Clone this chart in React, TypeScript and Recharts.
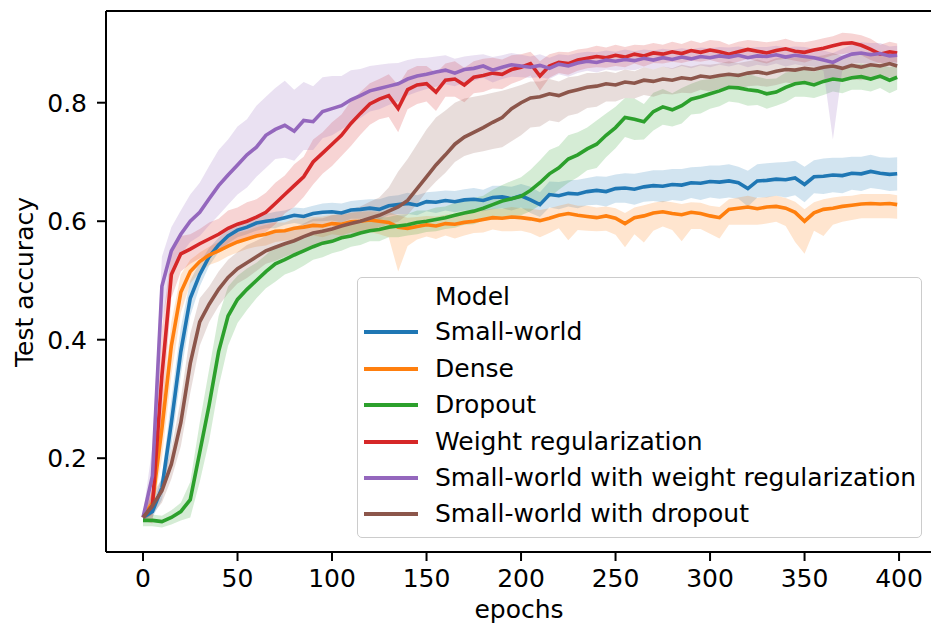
import React from "react";
import { ComposedChart, Line, Area, XAxis, YAxis, ReferenceLine } from "recharts";

const EPOCHS = [
  0, 5, 10, 15, 20, 25, 30, 35, 40, 45,
  50, 55, 60, 65, 70, 75, 80, 85, 90, 95,
  100, 105, 110, 115, 120, 125, 130, 135, 140, 145,
  150, 155, 160, 165, 170, 175, 180, 185, 190, 195,
  200, 205, 210, 215, 220, 225, 230, 235, 240, 245,
  250, 255, 260, 265, 270, 275, 280, 285, 290, 295,
  300, 305, 310, 315, 320, 325, 330, 335, 340, 345,
  350, 355, 360, 365, 370, 375, 380, 385, 390, 395,
  399,
];

const X_TICKS = [0, 50, 100, 150, 200, 250, 300, 350, 400];
const Y_TICKS = [0.2, 0.4, 0.6, 0.8];

// Small-world
const SMALL_WORLD = [
  0.10, 0.11, 0.15, 0.26, 0.38, 0.47, 0.51, 0.54, 0.56, 0.575,
  0.585, 0.59, 0.597, 0.60, 0.602, 0.606, 0.61, 0.608, 0.613, 0.615,
  0.616, 0.614, 0.619, 0.62, 0.622, 0.62, 0.626, 0.628, 0.63, 0.627,
  0.633, 0.632, 0.635, 0.633, 0.636, 0.637, 0.635, 0.64, 0.641, 0.638,
  0.643, 0.636, 0.628, 0.645, 0.643, 0.647, 0.646, 0.65, 0.652, 0.65,
  0.655, 0.656, 0.654, 0.658, 0.66, 0.659, 0.662, 0.661, 0.665, 0.664,
  0.667, 0.666, 0.668, 0.665, 0.655, 0.668, 0.669, 0.671, 0.67, 0.673,
  0.662, 0.675, 0.676, 0.678, 0.677, 0.681, 0.68, 0.684, 0.681, 0.679,
  0.68,
];
const SMALL_WORLD_CI = [
  0.005, 0.01, 0.02, 0.04, 0.04, 0.03, 0.02, 0.015, 0.012, 0.012,
  0.012, 0.012, 0.013, 0.012, 0.014, 0.012, 0.013, 0.014, 0.013, 0.015,
  0.015, 0.016, 0.015, 0.016, 0.015, 0.017, 0.016, 0.016, 0.018, 0.017,
  0.016, 0.018, 0.017, 0.018, 0.018, 0.019, 0.018, 0.02, 0.019, 0.02,
  0.02, 0.022, 0.021, 0.022, 0.023, 0.022, 0.024, 0.023, 0.024, 0.025,
  0.024, 0.025, 0.026, 0.025, 0.026, 0.027, 0.026, 0.027, 0.026, 0.028,
  0.027, 0.028, 0.028, 0.027, 0.03, 0.028, 0.029, 0.028, 0.03, 0.029,
  0.03, 0.028, 0.03, 0.029, 0.03, 0.028, 0.029, 0.028, 0.027, 0.028,
  0.028,
];

// Dense
const DENSE = [
  0.10, 0.125, 0.25, 0.39, 0.48, 0.515, 0.532, 0.543, 0.55, 0.558,
  0.565, 0.57, 0.575, 0.578, 0.583, 0.584, 0.588, 0.59, 0.593, 0.592,
  0.596, 0.595, 0.599, 0.6, 0.602, 0.6, 0.598, 0.59, 0.588, 0.591,
  0.594, 0.592, 0.596, 0.595, 0.598, 0.6, 0.603, 0.606, 0.605, 0.607,
  0.606, 0.604, 0.601, 0.605, 0.61, 0.613, 0.61, 0.608, 0.606, 0.609,
  0.605, 0.596, 0.606, 0.609, 0.614, 0.616, 0.613, 0.611, 0.615, 0.613,
  0.609, 0.606, 0.62, 0.622, 0.624, 0.621, 0.624, 0.625, 0.622, 0.615,
  0.6, 0.614, 0.62, 0.622, 0.625, 0.627, 0.629, 0.63, 0.629, 0.63,
  0.628,
];
const DENSE_UP = [
  0.005, 0.02, 0.04, 0.04, 0.03, 0.02, 0.015, 0.014, 0.015, 0.014,
  0.015, 0.014, 0.015, 0.016, 0.015, 0.014, 0.016, 0.015, 0.014, 0.016,
  0.015, 0.016, 0.015, 0.016, 0.015, 0.016, 0.017, 0.02, 0.018, 0.016,
  0.015, 0.016, 0.015, 0.017, 0.016, 0.015, 0.016, 0.015, 0.016, 0.017,
  0.016, 0.017, 0.018, 0.017, 0.016, 0.017, 0.016, 0.018, 0.017, 0.016,
  0.017, 0.018, 0.017, 0.018, 0.017, 0.018, 0.019, 0.018, 0.017, 0.018,
  0.017, 0.018, 0.017, 0.018, 0.019, 0.018, 0.017, 0.018, 0.017, 0.018,
  0.02, 0.018, 0.017, 0.018, 0.017, 0.016, 0.017, 0.016, 0.017, 0.016,
  0.016,
];
const DENSE_DOWN = [
  0.005, 0.02, 0.05, 0.05, 0.035, 0.02, 0.018, 0.017, 0.018, 0.017,
  0.018, 0.017, 0.018, 0.019, 0.018, 0.017, 0.019, 0.018, 0.017, 0.019,
  0.018, 0.019, 0.018, 0.019, 0.02, 0.022, 0.025, 0.075, 0.03, 0.022,
  0.02, 0.022, 0.02, 0.024, 0.022, 0.02, 0.022, 0.02, 0.022, 0.024,
  0.022, 0.024, 0.028, 0.025, 0.022, 0.045, 0.025, 0.024, 0.023, 0.025,
  0.028, 0.04, 0.028, 0.045, 0.03, 0.025, 0.028, 0.045, 0.028, 0.026,
  0.03, 0.035, 0.026, 0.028, 0.03, 0.027, 0.028, 0.026, 0.03, 0.05,
  0.055, 0.03, 0.045, 0.028, 0.026, 0.025, 0.024, 0.025, 0.024, 0.025,
  0.024,
];

// Dropout
const DROPOUT = [
  0.095, 0.095, 0.093, 0.1, 0.11, 0.13, 0.21, 0.29, 0.38, 0.44,
  0.468, 0.485, 0.5, 0.515, 0.528, 0.535, 0.543, 0.55, 0.557, 0.563,
  0.566, 0.572, 0.575, 0.58, 0.584, 0.586, 0.59, 0.592, 0.594, 0.598,
  0.6, 0.603, 0.606, 0.61, 0.614, 0.617, 0.622, 0.628, 0.634, 0.638,
  0.642, 0.652, 0.665, 0.68, 0.69, 0.705, 0.712, 0.722, 0.73, 0.745,
  0.758, 0.775, 0.772, 0.768, 0.785, 0.793, 0.788, 0.795, 0.806, 0.81,
  0.815, 0.82, 0.826, 0.825, 0.822, 0.82, 0.815, 0.818, 0.826, 0.832,
  0.834, 0.83, 0.836, 0.84, 0.838, 0.842, 0.844, 0.84, 0.845, 0.838,
  0.843,
];
const DROPOUT_CI = [
  0.01, 0.01, 0.01, 0.012, 0.015, 0.03, 0.05, 0.06, 0.06, 0.05,
  0.04, 0.035, 0.03, 0.028, 0.03, 0.025, 0.027, 0.025, 0.022, 0.024,
  0.02, 0.022, 0.018, 0.02, 0.018, 0.02, 0.017, 0.019, 0.018, 0.02,
  0.018, 0.02, 0.019, 0.021, 0.02, 0.022, 0.021, 0.025, 0.027, 0.03,
  0.032, 0.035, 0.038, 0.04, 0.037, 0.04, 0.038, 0.036, 0.04, 0.037,
  0.035, 0.033, 0.035, 0.03, 0.032, 0.03, 0.028, 0.03, 0.026, 0.028,
  0.025, 0.026, 0.024, 0.025, 0.027, 0.024, 0.025, 0.023, 0.025, 0.022,
  0.024, 0.022, 0.023, 0.021, 0.022, 0.02, 0.022, 0.021, 0.02, 0.022,
  0.021,
];

// Weight regularization
const WEIGHT_REG = [
  0.10, 0.12, 0.34, 0.51, 0.545, 0.553, 0.562, 0.57, 0.578, 0.588,
  0.595, 0.6, 0.607, 0.615, 0.63, 0.645, 0.66, 0.675, 0.7, 0.715,
  0.73, 0.745, 0.765, 0.782, 0.798, 0.806, 0.812, 0.79, 0.822, 0.83,
  0.832, 0.818, 0.838, 0.84, 0.83, 0.843, 0.846, 0.85, 0.848, 0.856,
  0.86, 0.866, 0.845, 0.862, 0.868, 0.866, 0.872, 0.875, 0.878, 0.876,
  0.88, 0.877, 0.882, 0.879, 0.884, 0.882, 0.886, 0.883, 0.888, 0.885,
  0.889, 0.886, 0.882, 0.886, 0.89, 0.887, 0.884, 0.888, 0.891, 0.887,
  0.885, 0.889, 0.892, 0.896, 0.9, 0.901, 0.897, 0.89, 0.882, 0.886,
  0.884,
];
const WEIGHT_REG_CI = [
  0.005, 0.03, 0.08, 0.04, 0.03, 0.025, 0.025, 0.028, 0.026, 0.03,
  0.028, 0.032, 0.03, 0.033, 0.035, 0.032, 0.036, 0.034, 0.038, 0.035,
  0.037, 0.035, 0.038, 0.036, 0.035, 0.034, 0.036, 0.04, 0.033, 0.032,
  0.03, 0.032, 0.028, 0.03, 0.029, 0.027, 0.028, 0.026, 0.025, 0.024,
  0.022, 0.02, 0.025, 0.02, 0.018, 0.019, 0.018, 0.017, 0.018, 0.017,
  0.018, 0.017, 0.016, 0.018, 0.017, 0.016, 0.017, 0.016, 0.017, 0.016,
  0.017, 0.018, 0.016, 0.017, 0.016, 0.017, 0.018, 0.016, 0.017, 0.016,
  0.017, 0.016, 0.017, 0.016, 0.018, 0.016, 0.017, 0.018, 0.016, 0.017,
  0.016,
];

// Small-world with weight regularization
const SW_WEIGHT_REG = [
  0.10, 0.17, 0.49, 0.55, 0.578, 0.6, 0.615, 0.638, 0.66, 0.678,
  0.695, 0.712, 0.725, 0.745, 0.755, 0.762, 0.752, 0.77, 0.768, 0.785,
  0.79, 0.795, 0.805, 0.812, 0.82, 0.824, 0.828, 0.832, 0.84, 0.845,
  0.848, 0.852, 0.855, 0.85, 0.856, 0.858, 0.862, 0.855, 0.86, 0.864,
  0.862, 0.86, 0.863, 0.858, 0.865, 0.862, 0.867, 0.87, 0.868, 0.872,
  0.87, 0.873, 0.871, 0.875, 0.872, 0.876, 0.873, 0.877, 0.874, 0.878,
  0.876, 0.879, 0.877, 0.88, 0.876, 0.879, 0.878, 0.881, 0.877, 0.88,
  0.878, 0.876, 0.872, 0.868, 0.876, 0.882, 0.884, 0.881, 0.883, 0.879,
  0.88,
];
const SW_WEIGHT_REG_UP = [
  0.005, 0.05, 0.05, 0.04, 0.04, 0.045, 0.05, 0.055, 0.06, 0.06,
  0.065, 0.06, 0.07, 0.065, 0.07, 0.075, 0.07, 0.065, 0.06, 0.058,
  0.055, 0.05, 0.05, 0.045, 0.042, 0.04, 0.038, 0.035, 0.032, 0.03,
  0.028, 0.026, 0.025, 0.024, 0.022, 0.022, 0.02, 0.022, 0.02, 0.02,
  0.019, 0.018, 0.019, 0.018, 0.017, 0.018, 0.017, 0.016, 0.017, 0.016,
  0.016, 0.017, 0.016, 0.015, 0.016, 0.015, 0.016, 0.015, 0.016, 0.015,
  0.016, 0.015, 0.016, 0.015, 0.016, 0.015, 0.016, 0.015, 0.016, 0.015,
  0.016, 0.015, 0.016, 0.016, 0.015, 0.016, 0.018, 0.02, 0.018, 0.016,
  0.016,
];
const SW_WEIGHT_REG_DOWN = [
  0.005, 0.05, 0.06, 0.04, 0.035, 0.035, 0.04, 0.045, 0.05, 0.05,
  0.05, 0.055, 0.05, 0.055, 0.05, 0.055, 0.05, 0.05, 0.048, 0.045,
  0.045, 0.04, 0.04, 0.038, 0.035, 0.035, 0.032, 0.03, 0.028, 0.027,
  0.025, 0.025, 0.024, 0.022, 0.022, 0.021, 0.02, 0.021, 0.02, 0.02,
  0.019, 0.018, 0.02, 0.018, 0.017, 0.018, 0.017, 0.016, 0.017, 0.016,
  0.016, 0.017, 0.016, 0.015, 0.016, 0.015, 0.016, 0.015, 0.016, 0.015,
  0.016, 0.015, 0.016, 0.015, 0.016, 0.015, 0.016, 0.015, 0.016, 0.015,
  0.016, 0.015, 0.018, 0.13, 0.02, 0.016, 0.017, 0.016, 0.015, 0.016,
  0.016,
];

// Small-world with dropout
const SW_DROPOUT = [
  0.10, 0.12, 0.145, 0.19, 0.26, 0.36, 0.43, 0.46, 0.485, 0.505,
  0.52, 0.53, 0.54, 0.55, 0.556, 0.562, 0.567, 0.574, 0.58, 0.583,
  0.587, 0.592, 0.596, 0.6, 0.605, 0.61, 0.617, 0.624, 0.635, 0.655,
  0.675, 0.695, 0.712, 0.73, 0.742, 0.75, 0.758, 0.767, 0.775, 0.79,
  0.8, 0.808, 0.81, 0.815, 0.812, 0.818, 0.822, 0.826, 0.828, 0.832,
  0.83, 0.835, 0.833, 0.838, 0.836, 0.84, 0.838, 0.842, 0.84, 0.845,
  0.843, 0.846, 0.848, 0.846, 0.85, 0.852, 0.849, 0.853, 0.856, 0.855,
  0.858, 0.856, 0.86, 0.862, 0.858, 0.863, 0.86, 0.864, 0.862, 0.866,
  0.862,
];
const SW_DROPOUT_UP = [
  0.005, 0.02, 0.02, 0.025, 0.04, 0.05, 0.04, 0.03, 0.03, 0.03,
  0.028, 0.03, 0.027, 0.025, 0.024, 0.022, 0.023, 0.022, 0.024, 0.022,
  0.023, 0.022, 0.024, 0.025, 0.028, 0.03, 0.04, 0.06, 0.07, 0.075,
  0.08, 0.08, 0.075, 0.07, 0.065, 0.06, 0.055, 0.05, 0.045, 0.035,
  0.03, 0.028, 0.026, 0.025, 0.024, 0.025, 0.023, 0.024, 0.022, 0.021,
  0.02, 0.021, 0.02, 0.022, 0.02, 0.021, 0.02, 0.022, 0.021, 0.02,
  0.021, 0.02, 0.022, 0.021, 0.02, 0.021, 0.02, 0.022, 0.02, 0.021,
  0.02, 0.021, 0.02, 0.022, 0.021, 0.02, 0.022, 0.021, 0.02, 0.021,
  0.02,
];
const SW_DROPOUT_DOWN = [
  0.005, 0.015, 0.02, 0.025, 0.04, 0.05, 0.04, 0.03, 0.028, 0.027,
  0.025, 0.026, 0.024, 0.022, 0.023, 0.022, 0.021, 0.022, 0.02, 0.021,
  0.02, 0.022, 0.02, 0.021, 0.022, 0.02, 0.022, 0.025, 0.024, 0.026,
  0.025, 0.028, 0.03, 0.03, 0.032, 0.035, 0.04, 0.045, 0.05, 0.055,
  0.055, 0.05, 0.05, 0.045, 0.045, 0.04, 0.04, 0.035, 0.035, 0.03,
  0.028, 0.027, 0.026, 0.025, 0.026, 0.025, 0.024, 0.025, 0.024, 0.023,
  0.024, 0.023, 0.024, 0.023, 0.022, 0.023, 0.022, 0.023, 0.022, 0.023,
  0.022, 0.023, 0.022, 0.023, 0.022, 0.024, 0.022, 0.023, 0.022, 0.023,
  0.022,
];

const SERIES = [
  { key: "sw", name: "Small-world", color: "#1f77b4", mean: SMALL_WORLD, up: SMALL_WORLD_CI, down: SMALL_WORLD_CI },
  { key: "dense", name: "Dense", color: "#ff7f0e", mean: DENSE, up: DENSE_UP, down: DENSE_DOWN },
  { key: "drop", name: "Dropout", color: "#2ca02c", mean: DROPOUT, up: DROPOUT_CI, down: DROPOUT_CI },
  { key: "wreg", name: "Weight regularization", color: "#d62728", mean: WEIGHT_REG, up: WEIGHT_REG_CI, down: WEIGHT_REG_CI },
  { key: "swwreg", name: "Small-world with weight regularization", color: "#9467bd", mean: SW_WEIGHT_REG, up: SW_WEIGHT_REG_UP, down: SW_WEIGHT_REG_DOWN },
  { key: "swdrop", name: "Small-world with dropout", color: "#8c564b", mean: SW_DROPOUT, up: SW_DROPOUT_UP, down: SW_DROPOUT_DOWN },
];

const ROWS = EPOCHS.map((e, i) => {
  const r: any = { epoch: e };
  SERIES.forEach((s) => {
    r[s.key] = s.mean[i];
    r[s.key + "Band"] = [s.mean[i] - s.down[i], s.mean[i] + s.up[i]];
  });
  return r;
});

const FONT = "'DejaVu Sans', sans-serif";
const X_DOMAIN = [-19.58, 416.9];
const Y_DOMAIN = [0.0417, 0.9548];

const LEGEND_ROWS_Y = [332, 369, 405, 442, 478, 514];

export default function App() {
  const elements: any[] = [];
  SERIES.forEach((s) => {
    elements.push(
      <Line
        key={s.key + "L"}
        type="linear"
        dataKey={s.key}
        stroke={s.color}
        strokeWidth={3.6}
        dot={false}
        activeDot={false}
        isAnimationActive={false}
      />
    );
    elements.push(
      <Area
        key={s.key + "A"}
        type="linear"
        dataKey={s.key + "Band"}
        stroke="none"
        fill={s.color}
        fillOpacity={0.2}
        dot={false}
        activeDot={false}
        isAnimationActive={false}
      />
    );
  });

  return (
    <div style={{ position: "absolute", left: 0, top: 0, width: 931, height: 624, background: "#fff", overflow: "hidden" }}>
      <ComposedChart width={931} height={624} data={ROWS} margin={{ top: 11, right: 0, bottom: 0, left: 0 }}>
        <XAxis
          dataKey="epoch"
          type="number"
          domain={X_DOMAIN}
          allowDataOverflow
          ticks={X_TICKS}
          height={72}
          tickSize={9}
          tickMargin={8}
          axisLine={{ stroke: "#000", strokeWidth: 2 }}
          tickLine={{ stroke: "#000", strokeWidth: 2 }}
          tick={{ fill: "#000", fontSize: 25, fontFamily: FONT }}
        />
        <YAxis
          type="number"
          domain={Y_DOMAIN}
          allowDataOverflow
          ticks={Y_TICKS}
          width={106}
          tickSize={9}
          tickMargin={10}
          tickFormatter={(v: number) => v.toFixed(1)}
          axisLine={{ stroke: "#000", strokeWidth: 2 }}
          tickLine={{ stroke: "#000", strokeWidth: 2 }}
          tick={{ fill: "#000", fontSize: 25, fontFamily: FONT }}
        />
        <ReferenceLine y={Y_DOMAIN[1]} stroke="#000" strokeWidth={2} />
        {elements}
      </ComposedChart>
      <svg width={931} height={624} style={{ position: "absolute", left: 0, top: 0, pointerEvents: "none" }}>
        <text x={519} y={618} textAnchor="middle" fontSize={25} fontFamily={FONT} fill="#000">
          epochs
        </text>
        <text
          x={33}
          y={282}
          textAnchor="middle"
          fontSize={25}
          fontFamily={FONT}
          fill="#000"
          transform="rotate(-90 33 282)"
        >
          Test accuracy
        </text>
      </svg>
      <div
        style={{
          position: "absolute",
          left: 357,
          top: 277,
          width: 565,
          height: 261,
          boxSizing: "border-box",
          border: "1px solid #cccccc",
          borderRadius: 5,
          background: "rgba(255,255,255,0.8)",
          fontFamily: FONT,
          fontSize: 25,
          color: "#000",
        }}
      >
        <div style={{ position: "absolute", left: 435 - 358, top: 297 - 278 - 15.4, lineHeight: "30px", whiteSpace: "nowrap" }}>
          Model
        </div>
        {SERIES.map((s, i) => (
          <React.Fragment key={s.key}>
            <div
              style={{
                position: "absolute",
                left: 364 - 358,
                top: LEGEND_ROWS_Y[i] - 278 - 2,
                width: 54,
                height: 4,
                background: s.color,
              }}
            />
            <div
              style={{
                position: "absolute",
                left: 435 - 358,
                top: LEGEND_ROWS_Y[i] - 278 - 15.4,
                lineHeight: "30px",
                whiteSpace: "nowrap",
              }}
            >
              {s.name}
            </div>
          </React.Fragment>
        ))}
      </div>
    </div>
  );
}
